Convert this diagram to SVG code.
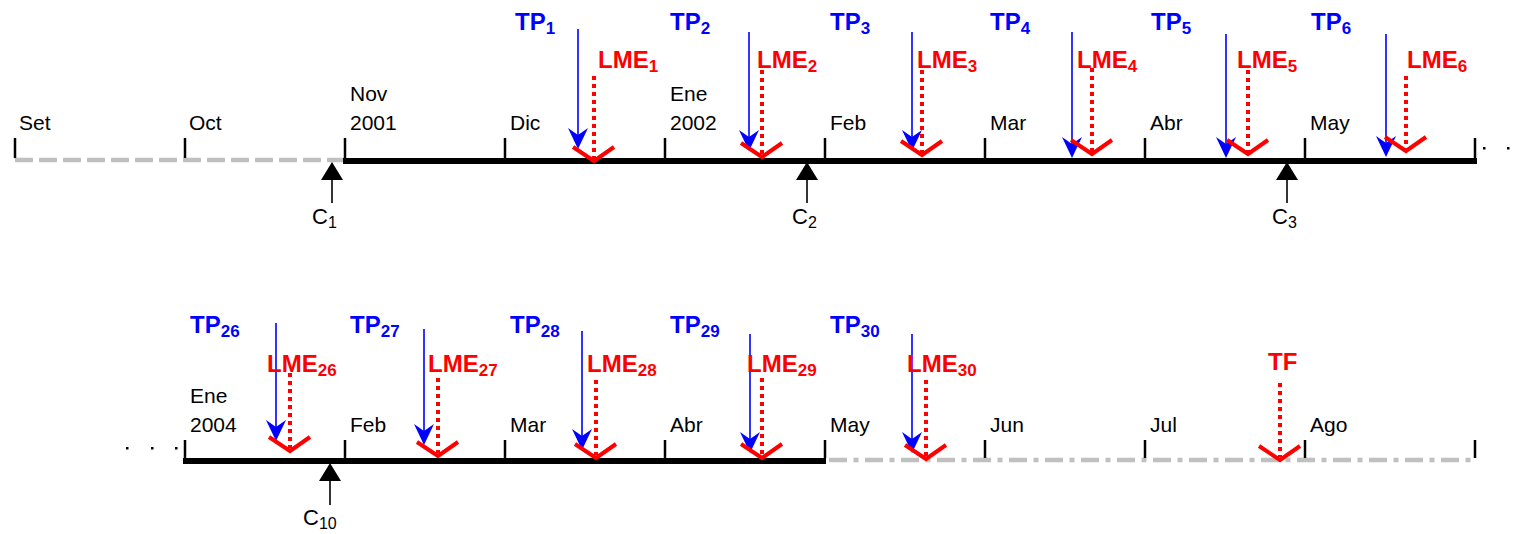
<svg xmlns="http://www.w3.org/2000/svg" xmlns:xlink="http://www.w3.org/1999/xlink" width="1520" height="534" viewBox="0 0 1520 534">
<defs>
<style>
text{font-family:"Liberation Sans",Arial,sans-serif}
.m{font-size:21px;fill:#000}
.tp{font-size:24px;font-weight:bold;fill:#0000ff}
.lme{font-size:24px;font-weight:bold;fill:#ff0000}
.sub{font-size:17px}
.csub{font-size:16px}
.c{font-size:22px;fill:#000}
.tick{stroke:#000;stroke-width:2.5}
.axis{stroke:#000;stroke-width:6;fill:none}
.gdash{stroke:#c0c0c0;stroke-width:4.5;stroke-dasharray:18 6;fill:none}
.gdd{stroke:#c0c0c0;stroke-width:4.5;stroke-dasharray:18 6.5 5 6.5;fill:none}
.blue{stroke:#0000ff;stroke-width:1.6}
.dot{stroke:#ff0000;stroke-width:4;stroke-dasharray:4 4}
.vee{stroke:#ff0000;stroke-width:4;fill:none}
.cl{stroke:#000;stroke-width:1.6}
</style>
<path id="ah" d="M0,0 L-10,-21 L0,-14 L10,-21 Z" fill="#0000ff"/>
</defs>

<g id="connectors">
<line class="gdash" x1="15" y1="160" x2="345" y2="160"/>
<line class="axis" x1="343" y1="161" x2="1477" y2="161"/>
<line class="axis" x1="183" y1="461" x2="826" y2="461"/>
<line class="gdd" x1="829" y1="460" x2="1475" y2="460"/>
</g>

<g id="ticks-top">
<line class="tick" x1="15" y1="138" x2="15" y2="158"/>
<line class="tick" x1="185" y1="138" x2="185" y2="158"/>
<line class="tick" x1="345" y1="138" x2="345" y2="158"/>
<line class="tick" x1="505" y1="138" x2="505" y2="158"/>
<line class="tick" x1="665" y1="138" x2="665" y2="158"/>
<line class="tick" x1="825" y1="138" x2="825" y2="158"/>
<line class="tick" x1="985" y1="138" x2="985" y2="158"/>
<line class="tick" x1="1145" y1="138" x2="1145" y2="158"/>
<line class="tick" x1="1305" y1="138" x2="1305" y2="158"/>
<line class="tick" x1="1475" y1="138" x2="1475" y2="158"/>
</g>
<g id="ticks-bottom">
<line class="tick" x1="185" y1="440" x2="185" y2="458"/>
<line class="tick" x1="345" y1="440" x2="345" y2="458"/>
<line class="tick" x1="505" y1="440" x2="505" y2="458"/>
<line class="tick" x1="665" y1="440" x2="665" y2="458"/>
<line class="tick" x1="825" y1="440" x2="825" y2="458"/>
<line class="tick" x1="985" y1="440" x2="985" y2="458"/>
<line class="tick" x1="1145" y1="440" x2="1145" y2="458"/>
<line class="tick" x1="1305" y1="440" x2="1305" y2="458"/>
<line class="tick" x1="1475" y1="440" x2="1475" y2="458"/>
</g>

<g id="months-top">
<text class="m" x="19" y="130">Set</text>
<text class="m" x="189" y="130">Oct</text>
<text class="m" x="350" y="101">Nov</text>
<text class="m" x="350" y="130">2001</text>
<text class="m" x="510" y="130">Dic</text>
<text class="m" x="670" y="101">Ene</text>
<text class="m" x="670" y="130">2002</text>
<text class="m" x="830" y="130">Feb</text>
<text class="m" x="990" y="130">Mar</text>
<text class="m" x="1150" y="130">Abr</text>
<text class="m" x="1310" y="130">May</text>
</g>
<g id="months-bottom">
<text class="m" x="190" y="403">Ene</text>
<text class="m" x="190" y="432">2004</text>
<text class="m" x="350" y="432">Feb</text>
<text class="m" x="510" y="432">Mar</text>
<text class="m" x="670" y="432">Abr</text>
<text class="m" x="830" y="432">May</text>
<text class="m" x="990" y="432">Jun</text>
<text class="m" x="1150" y="432">Jul</text>
<text class="m" x="1310" y="432">Ago</text>
</g>

<g id="ellipsis" fill="#000">
<rect x="1483" y="147" width="2.5" height="2.5"/>
<rect x="1507" y="147" width="2.5" height="2.5"/>
<rect x="126" y="447" width="2.5" height="2.5"/>
<rect x="151" y="447" width="2.5" height="2.5"/>
<rect x="175" y="447" width="2.5" height="2.5"/>
</g>

<g id="TP1"><text class="tp" x="515" y="30">TP<tspan class="sub" dy="4">1</tspan></text><line class="blue" x1="578" y1="29" x2="578" y2="140"/><use xlink:href="#ah" x="578" y="149"/></g>
<g id="TP2"><text class="tp" x="670" y="30">TP<tspan class="sub" dy="4">2</tspan></text><line class="blue" x1="749" y1="32" x2="749" y2="142"/><use xlink:href="#ah" x="749" y="151"/></g>
<g id="TP3"><text class="tp" x="830" y="30">TP<tspan class="sub" dy="4">3</tspan></text><line class="blue" x1="912" y1="32" x2="912" y2="142"/><use xlink:href="#ah" x="912" y="151"/></g>
<g id="TP4"><text class="tp" x="990" y="30">TP<tspan class="sub" dy="4">4</tspan></text><line class="blue" x1="1072" y1="32" x2="1072" y2="148"/><use xlink:href="#ah" x="1072" y="158"/></g>
<g id="TP5"><text class="tp" x="1151" y="30">TP<tspan class="sub" dy="4">5</tspan></text><line class="blue" x1="1226" y1="34" x2="1226" y2="148"/><use xlink:href="#ah" x="1226" y="158"/></g>
<g id="TP6"><text class="tp" x="1311" y="30">TP<tspan class="sub" dy="4">6</tspan></text><line class="blue" x1="1386" y1="34" x2="1386" y2="147"/><use xlink:href="#ah" x="1386" y="157"/></g>

<g id="LME1"><text class="lme" x="598" y="68">LME<tspan class="sub" dy="4">1</tspan></text><line class="dot" x1="594" y1="76" x2="594" y2="158"/><polyline class="vee" points="573,147 594,161 614,147"/></g>
<g id="LME2"><text class="lme" x="757" y="68">LME<tspan class="sub" dy="4">2</tspan></text><line class="dot" x1="762" y1="70" x2="762" y2="156"/><polyline class="vee" points="741,143 762,157 782,143"/></g>
<g id="LME3"><text class="lme" x="917" y="68">LME<tspan class="sub" dy="4">3</tspan></text><line class="dot" x1="922" y1="70" x2="922" y2="154"/><polyline class="vee" points="901,141 922,155 942,141"/></g>
<g id="LME4"><text class="lme" x="1077" y="68">LME<tspan class="sub" dy="4">4</tspan></text><line class="dot" x1="1092" y1="68" x2="1092" y2="152"/><polyline class="vee" points="1071,140 1092,154 1112,140"/></g>
<g id="LME5"><text class="lme" x="1237" y="68">LME<tspan class="sub" dy="4">5</tspan></text><line class="dot" x1="1248" y1="70" x2="1248" y2="152"/><polyline class="vee" points="1227,140 1248,154 1268,140"/></g>
<g id="LME6"><text class="lme" x="1407" y="68">LME<tspan class="sub" dy="4">6</tspan></text><line class="dot" x1="1406" y1="76" x2="1406" y2="150"/><polyline class="vee" points="1385,137 1406,151 1426,137"/></g>

<g id="C1"><polygon points="332,162 321,180 343,180" fill="#000"/><line class="cl" x1="332" y1="180" x2="332" y2="203"/><text class="c" x="312" y="224">C<tspan class="csub" dy="4">1</tspan></text></g>
<g id="C2"><polygon points="807,162 796,180 818,180" fill="#000"/><line class="cl" x1="807" y1="180" x2="807" y2="203"/><text class="c" x="792" y="224">C<tspan class="csub" dy="4">2</tspan></text></g>
<g id="C3"><polygon points="1287,162 1276,180 1298,180" fill="#000"/><line class="cl" x1="1287" y1="180" x2="1287" y2="203"/><text class="c" x="1272" y="224">C<tspan class="csub" dy="4">3</tspan></text></g>
<g id="C10"><polygon points="330,463 319,481 341,481" fill="#000"/><line class="cl" x1="330" y1="481" x2="330" y2="505"/><text class="c" x="303" y="525">C<tspan class="csub" dy="4">10</tspan></text></g>

<g id="TP26"><text class="tp" x="190" y="333">TP<tspan class="sub" dy="4">26</tspan></text><line class="blue" x1="276" y1="323" x2="276" y2="432"/><use xlink:href="#ah" x="276" y="441"/></g>
<g id="TP27"><text class="tp" x="350" y="333">TP<tspan class="sub" dy="4">27</tspan></text><line class="blue" x1="424" y1="329" x2="424" y2="436"/><use xlink:href="#ah" x="424" y="445"/></g>
<g id="TP28"><text class="tp" x="510" y="333">TP<tspan class="sub" dy="4">28</tspan></text><line class="blue" x1="582" y1="331" x2="582" y2="441"/><use xlink:href="#ah" x="582" y="450"/></g>
<g id="TP29"><text class="tp" x="670" y="333">TP<tspan class="sub" dy="4">29</tspan></text><line class="blue" x1="750" y1="334" x2="750" y2="444"/><use xlink:href="#ah" x="750" y="453"/></g>
<g id="TP30"><text class="tp" x="830" y="333">TP<tspan class="sub" dy="4">30</tspan></text><line class="blue" x1="912" y1="334" x2="912" y2="444"/><use xlink:href="#ah" x="912" y="453"/></g>

<g id="LME26"><text class="lme" x="267" y="372">LME<tspan class="sub" dy="4">26</tspan></text><line class="dot" x1="290" y1="373" x2="290" y2="448"/><polyline class="vee" points="269,437 290,451 310,437"/></g>
<g id="LME27"><text class="lme" x="428" y="372">LME<tspan class="sub" dy="4">27</tspan></text><line class="dot" x1="438" y1="378" x2="438" y2="453"/><polyline class="vee" points="417,442 438,456 458,442"/></g>
<g id="LME28"><text class="lme" x="587" y="372">LME<tspan class="sub" dy="4">28</tspan></text><line class="dot" x1="596" y1="380" x2="596" y2="455"/><polyline class="vee" points="575,444 596,458 616,444"/></g>
<g id="LME29"><text class="lme" x="747" y="372">LME<tspan class="sub" dy="4">29</tspan></text><line class="dot" x1="762" y1="378" x2="762" y2="455"/><polyline class="vee" points="741,444 762,458 782,444"/></g>
<g id="LME30"><text class="lme" x="907" y="372">LME<tspan class="sub" dy="4">30</tspan></text><line class="dot" x1="926" y1="380" x2="926" y2="457"/><polyline class="vee" points="905,445 926,459 946,445"/></g>
<g id="TF"><text class="lme" x="1268" y="370">TF</text><line class="dot" x1="1280" y1="383" x2="1280" y2="457"/><polyline class="vee" points="1259,446 1280,460 1300,446"/></g>
</svg>
